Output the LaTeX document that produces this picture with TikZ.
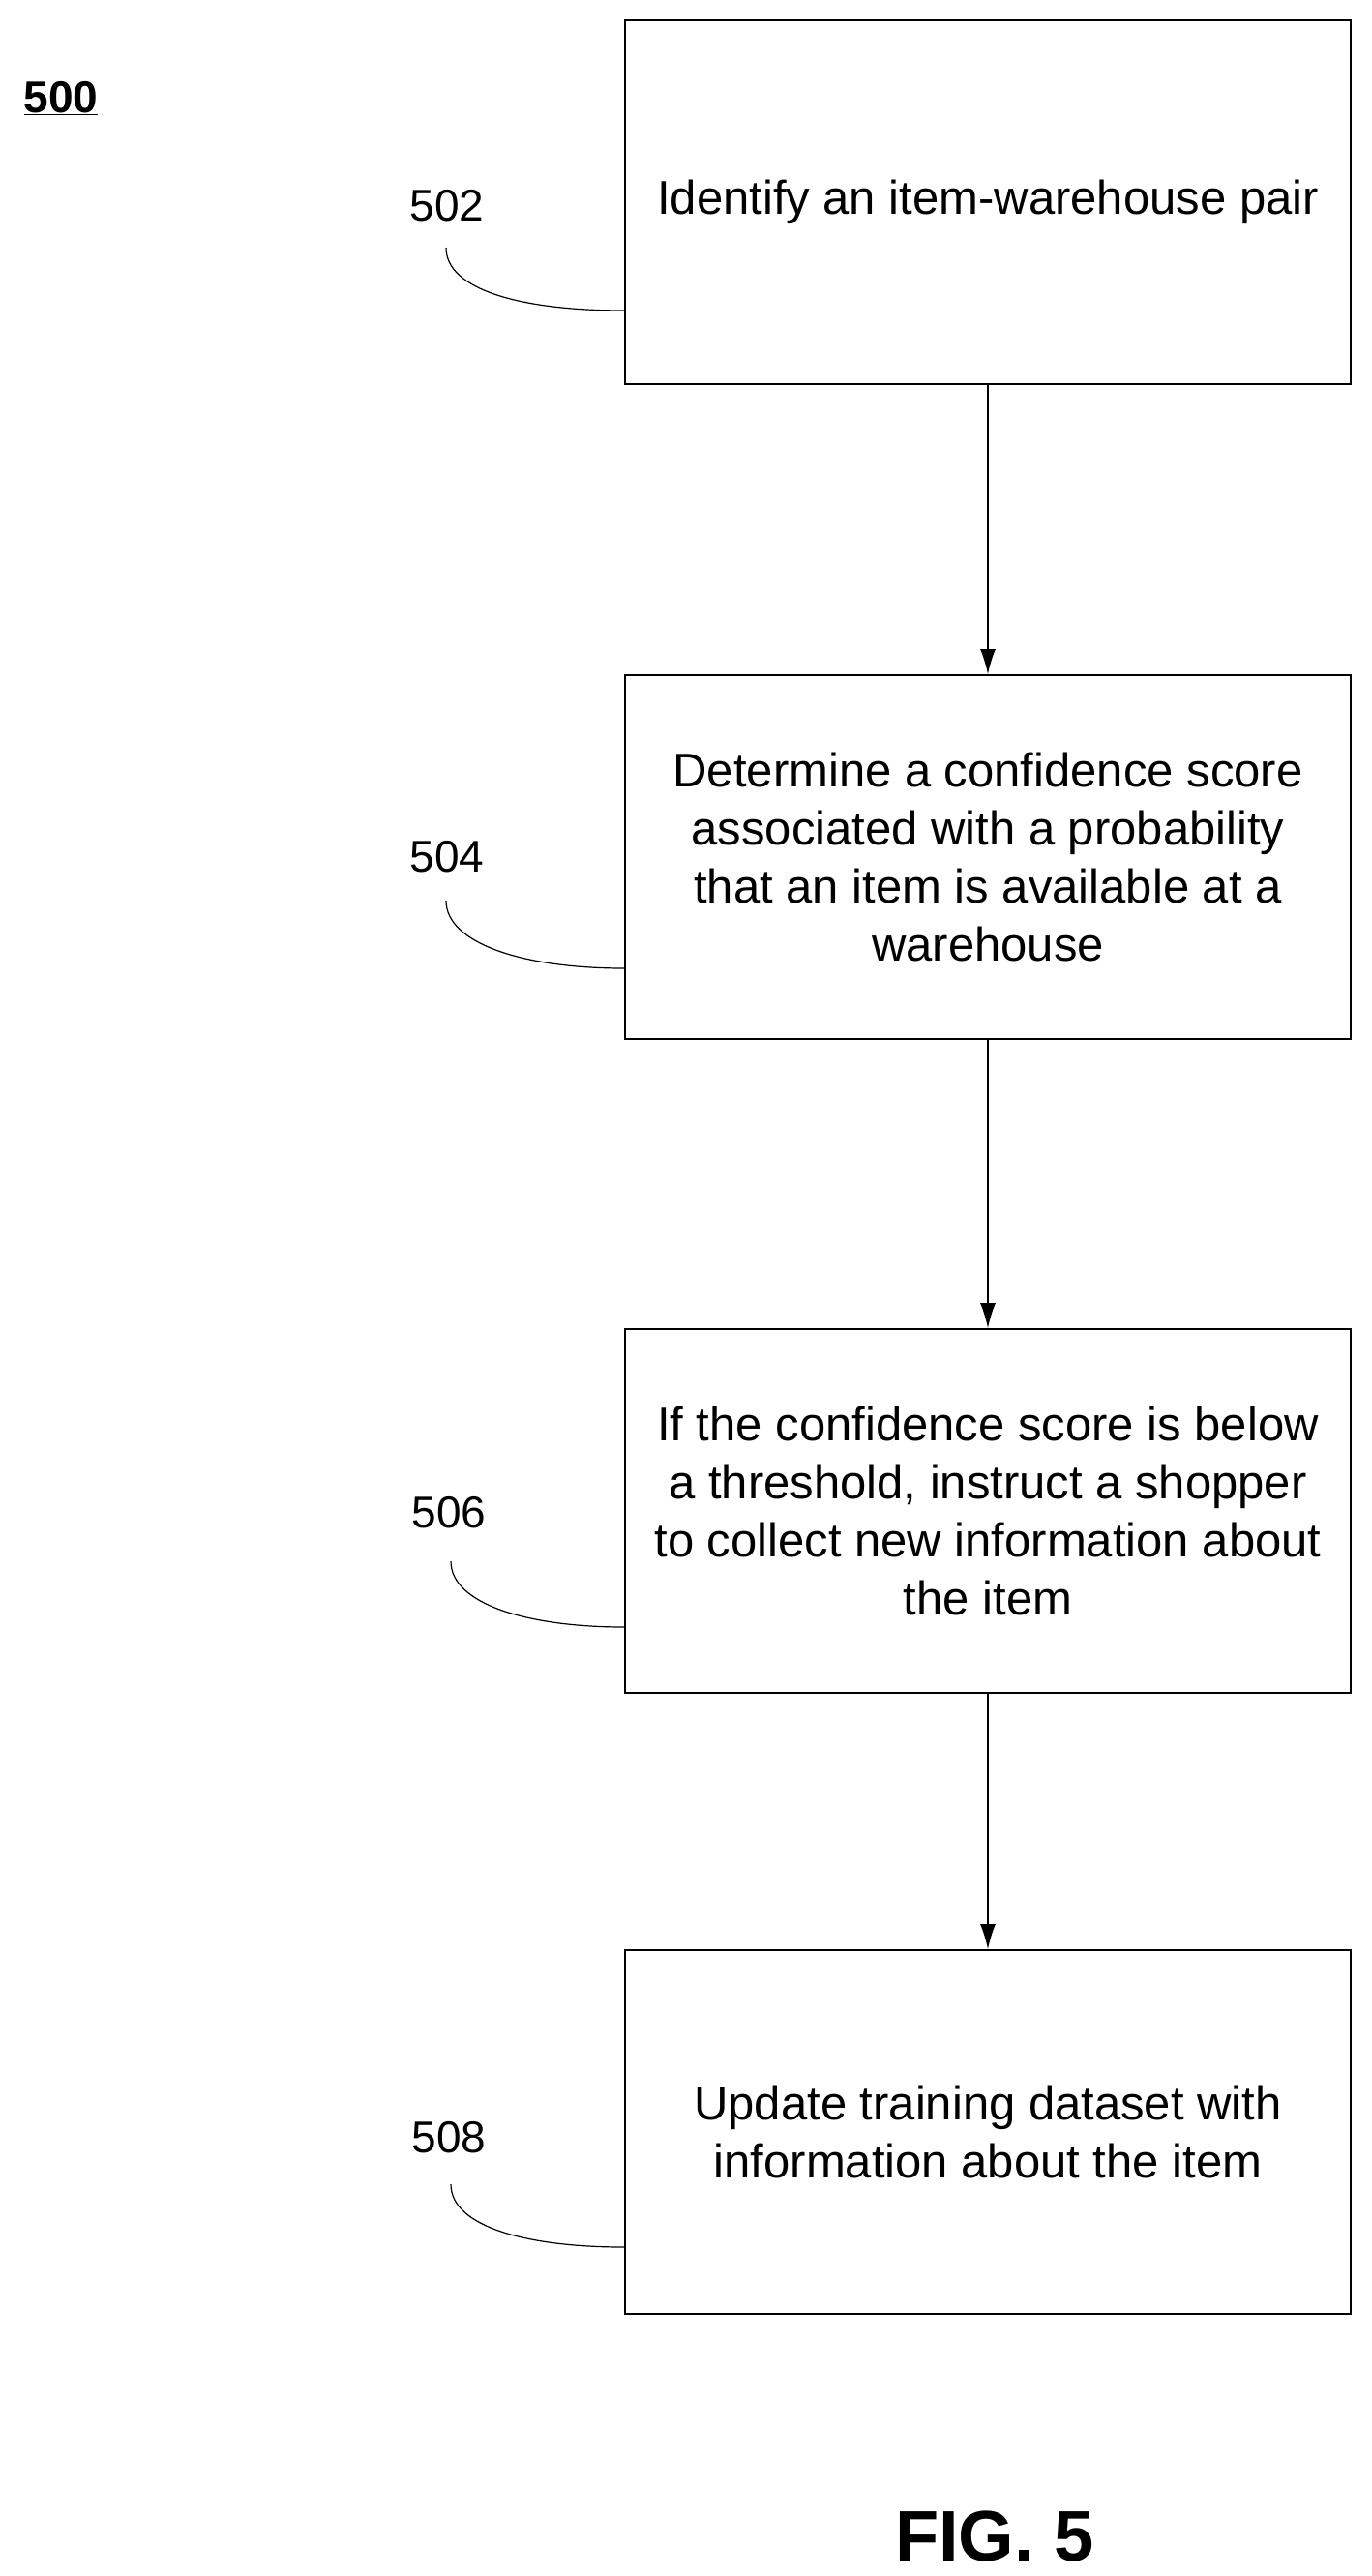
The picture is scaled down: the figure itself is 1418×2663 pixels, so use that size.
\documentclass[tikz,border=0pt]{standalone}
\usepackage{fontspec}
\setmainfont{Liberation Sans}
\usetikzlibrary{arrows.meta}
\begin{document}
\begin{tikzpicture}[x=1pt,y=-1pt,
 box/.style={draw,line width=2pt,minimum width=750pt,minimum height=376pt,align=center,font=\fontsize{49}{60}\selectfont,inner sep=0pt},
 arr/.style={line width=1.2pt,-{Latex[length=26pt,width=16pt]}},
 lab/.style={font=\fontsize{46}{52}\selectfont},
 lead/.style={line width=1.2pt}]
\useasboundingbox (0,0) rectangle (1418,2663);
\node[box] (b1) at (1021,209) {Identify an item-warehouse pair};
\node[box] (b2) at (1021,886) {Determine a confidence score\\associated with a probability\\that an item is available at a\\warehouse};
\node[box] (b3) at (1021,1562) {If the confidence score is below\\a threshold, instruct a shopper\\to collect new information about\\the item};
\node[box] (b4) at (1021,2204) {Update training dataset with\\information about the item};
\draw[arr] (b1) -- (b2);
\draw[arr] (b2) -- (b3);
\draw[arr] (b3) -- (b4);
\node[lab] (l1) at (462,213) {502};
\node[lab] (l2) at (462,886) {504};
\node[lab] (l3) at (464,1564) {506};
\node[lab] (l4) at (464,2210) {508};
\coordinate (c1) at (461,256); \coordinate (c2) at (461,931);
\coordinate (c3) at (466,1614); \coordinate (c4) at (466,2258);
\draw[lead] (c1) .. controls (461,300) and (540,321) .. (b1.west |- 0,321);
\draw[lead] (c2) .. controls (461,975) and (540,1001) .. (b2.west |- 0,1001);
\draw[lead] (c3) .. controls (466,1658) and (545,1682) .. (b3.west |- 0,1682);
\draw[lead] (c4) .. controls (466,2302) and (545,2323) .. (b4.west |- 0,2323);
\node[font=\bfseries\fontsize{46}{52}\selectfont] (t) at (63,102) {\underline{500}};
\node[font=\bfseries\fontsize{74}{86}\selectfont] (f) at (1028,2622) {FIG. 5};
\end{tikzpicture}
\end{document}
